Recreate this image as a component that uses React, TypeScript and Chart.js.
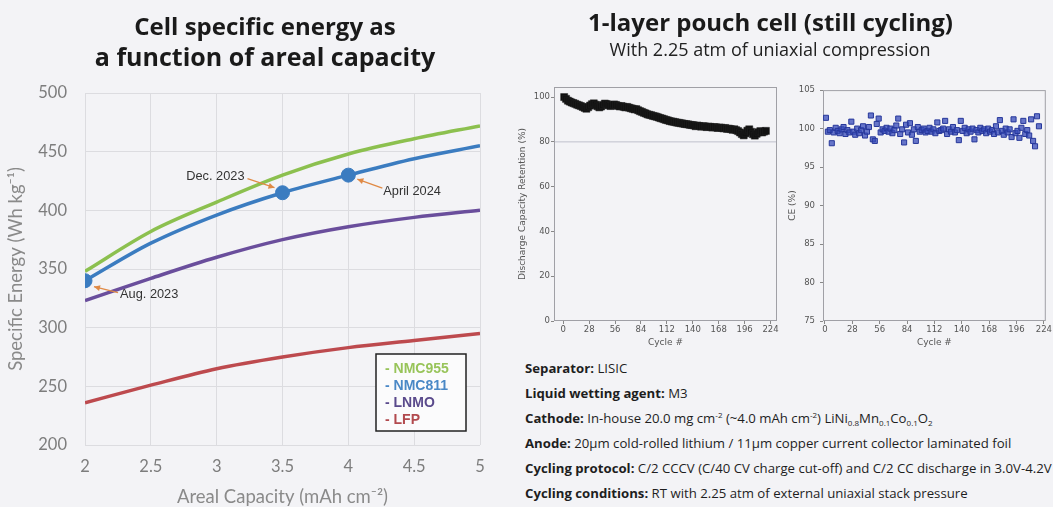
import React, { useEffect, useRef } from "react";
import { Chart, registerables } from "chart.js";
Chart.register(...registerables);

// ---------- Left chart data ----------
const capacity = [2, 2.5, 3, 3.5, 4, 4.5, 5];
const capacityTicks = [2, 2.5, 3, 3.5, 4, 4.5, 5];
const energyTicks = [200, 250, 300, 350, 400, 450, 500];
const nmc955 = [348, 382, 407, 430, 448, 461, 472];
const nmc811 = [340, 372, 396, 415, 430, 444, 455];
const lnmo = [323, 342, 360, 375, 386, 394, 400];
const lfp = [236, 251, 265, 275, 283, 289, 295];
const seriesNames = ["NMC955", "NMC811", "LNMO", "LFP"];
const milestoneX = [2, 3.5, 4];
const milestoneY = [340, 415, 430];
const milestoneLabels = ["Aug. 2023", "Dec. 2023", "April 2024"];

// ---------- Right charts data ----------
const cycleTicks = [0, 28, 56, 84, 112, 140, 168, 196, 224];
const retentionTicks = [0, 20, 40, 60, 80, 100];
const ceTicks = [75, 80, 85, 90, 95, 100, 105];
// cycles 1,3,5,...
const retention = [
  100.0, 99.2, 98.4, 98.0, 97.6, 97.3, 97.0, 96.6, 96.3, 96.0,
  95.6, 95.2, 94.8, 95.5, 96.2, 96.8, 97.2, 96.6, 95.9, 95.4,
  95.8, 96.5, 97.1, 96.9, 96.4, 96.0, 96.3, 96.7, 96.5, 96.1,
  95.8, 96.0, 95.7, 95.4, 95.6, 95.3, 95.0, 94.8, 94.5, 94.6,
  94.1, 93.7, 93.4, 93.0, 92.7, 92.3, 92.1, 91.9, 91.6, 91.4,
  91.2, 90.9, 90.6, 90.4, 90.1, 89.8, 89.6, 89.3, 89.1, 89.0,
  88.8, 88.6, 88.5, 88.3, 88.2, 88.0, 87.9, 87.8, 87.6, 87.5,
  87.4, 87.0, 87.3, 87.1, 86.8, 87.0, 86.9, 86.6, 86.8, 86.7,
  86.4, 86.6, 86.5, 86.2, 86.4, 86.3, 86.0, 86.2, 85.8, 85.9,
  85.7, 85.4, 85.6, 85.2, 84.8, 84.2, 83.5, 82.9, 83.8, 85.0,
  85.6, 84.5, 83.4, 82.8, 83.6, 84.3, 84.8, 84.2, 84.6, 84.9,
];
const coulombicEff = [
  101.4, 99.6, 99.8, 98.1, 99.5, 100.1, 99.7, 99.4, 99.9, 100.2,
  99.3, 99.8, 99.5, 100.9, 99.6, 99.2, 100.0, 99.4, 99.8, 100.3,
  99.1, 99.6, 100.2, 101.7, 98.6, 98.4, 100.6, 101.3, 99.5, 99.9,
  99.7, 100.1, 99.6, 100.0, 99.4, 99.8, 100.4, 101.3, 99.3, 99.9,
  98.2, 100.5, 99.5, 100.7, 99.2, 99.9, 98.4, 100.2, 99.6, 99.8,
  100.0, 99.5, 99.7, 100.1, 99.6, 99.9, 99.4, 100.8, 99.7, 99.8,
  100.0, 101.0, 99.3, 99.9, 99.6, 100.2, 99.5, 99.8, 98.5, 101.0,
  99.7, 100.1, 99.4, 99.9, 99.6, 100.0, 98.6, 99.8, 99.5, 100.1,
  99.7, 99.9, 99.4, 100.0, 99.6, 99.8, 99.3, 100.3, 99.5, 101.1,
  99.7, 99.2, 100.0, 99.5, 99.9, 98.9, 101.2, 99.4, 99.7, 98.8,
  100.1, 101.0, 99.3, 99.8, 99.1, 101.2, 98.4, 97.7, 101.6, 100.3,
];
const cycles = retention.map((_, i) => 1 + 2 * i);

const GREEN = "#8cc04f";
const BLUE = "#3b7cc0";
const PURPLE = "#6a4e9c";
const RED = "#bd4a4e";
const legendColors = ["#98c45a", "#4a88c6", "#5a4a8c", "#b24a4e"];
const BG = "#f3f3f6";

function drawArrow(ctx: CanvasRenderingContext2D, x1: number, y1: number, x2: number, y2: number) {
  ctx.save();
  ctx.strokeStyle = "#e08a45";
  ctx.fillStyle = "#e08a45";
  ctx.lineWidth = 1.3;
  ctx.beginPath();
  ctx.moveTo(x1, y1);
  ctx.lineTo(x2, y2);
  ctx.stroke();
  const a = Math.atan2(y2 - y1, x2 - x1);
  const L = 6, W = 3;
  ctx.beginPath();
  ctx.moveTo(x2, y2);
  ctx.lineTo(x2 - L * Math.cos(a) + W * Math.sin(a), y2 - L * Math.sin(a) - W * Math.cos(a));
  ctx.lineTo(x2 - L * Math.cos(a) - W * Math.sin(a), y2 - L * Math.sin(a) + W * Math.cos(a));
  ctx.closePath();
  ctx.fill();
  ctx.restore();
}

// label style offsets (pixels) relative to each milestone point
const annotStyle = [
  { tx: 35, ty: 14, align: "left", ax1: 33, ay1: 12, ax2: 9, ay2: 6 },
  { tx: -38, ty: -16, align: "right", ax1: -35, ay1: -14, ax2: -8, ay2: -5 },
  { tx: 35, ty: 16, align: "left", ax1: 34, ay1: 13, ax2: 9, ay2: 4 },
];

const leftPlugin = {
  id: "leftAnnot",
  afterDatasetsDraw(chart: any) {
    const ctx = chart.ctx as CanvasRenderingContext2D;
    const xs = chart.scales.x, ys = chart.scales.y;
    milestoneX.forEach((mx, i) => {
      const px = xs.getPixelForValue(mx);
      const py = ys.getPixelForValue(milestoneY[i]);
      const s = annotStyle[i];
      drawArrow(ctx, px + s.ax1, py + s.ay1, px + s.ax2, py + s.ay2);
      ctx.save();
      ctx.font = "12.8px 'Liberation Sans', Arial, sans-serif";
      ctx.fillStyle = "#333";
      ctx.textAlign = s.align as CanvasTextAlign;
      ctx.textBaseline = "middle";
      ctx.fillText(milestoneLabels[i], px + s.tx, py + s.ty);
      ctx.restore();
    });
    // legend box
    const ca = chart.chartArea;
    const bw = 90, bh = 77;
    const bx = ca.right - 14 - bw, by = ca.bottom - 14 - bh;
    ctx.save();
    ctx.fillStyle = "#fbfbfc";
    ctx.fillRect(bx, by, bw, bh);
    ctx.strokeStyle = "#222";
    ctx.lineWidth = 1.5;
    ctx.strokeRect(bx, by, bw, bh);
    ctx.font = "bold 14px 'Liberation Sans', Arial, sans-serif";
    ctx.textBaseline = "middle";
    seriesNames.forEach((n, i) => {
      ctx.fillStyle = legendColors[i];
      ctx.fillText("- " + n, bx + 9, by + 15 + i * 17);
    });
    ctx.restore();
  },
};

const frameAndRefPlugin = (refValue: number | null) => ({
  id: "frameRef",
  beforeDatasetsDraw(chart: any) {
    const ctx = chart.ctx as CanvasRenderingContext2D;
    const ca = chart.chartArea;
    ctx.save();
    if (refValue !== null) {
      const y = chart.scales.y.getPixelForValue(refValue);
      ctx.strokeStyle = "#bfc0cc";
      ctx.lineWidth = 1;
      ctx.beginPath();
      ctx.moveTo(ca.left, y);
      ctx.lineTo(ca.right, y);
      ctx.stroke();
    }
    ctx.strokeStyle = "#a0a0a6";
    ctx.lineWidth = 1;
    ctx.strokeRect(ca.left + 0.5, ca.top + 0.5, ca.right - ca.left - 1, ca.bottom - ca.top - 1);
    ctx.restore();
  },
});

const smallFont = { family: "'DejaVu Sans', sans-serif", size: 8.5 };

function smallScales(yMin: number, yMax: number, yTicks: number[], xMin: number, xMax: number, yTitle: string, yWidth: number, yPad: number) {
  return {
    x: {
      type: "linear",
      min: xMin,
      max: xMax,
      afterBuildTicks: (s: any) => { s.ticks = cycleTicks.map((v) => ({ value: v })); },
      afterFit: (s: any) => { s.height = 31; },
      grid: { display: true, drawOnChartArea: false, drawTicks: true, tickLength: 3, color: "#888" },
      border: { display: false },
      ticks: { padding: 1, color: "#555", font: smallFont, maxRotation: 0, autoSkip: false },
      title: { display: true, text: "Cycle #", color: "#555", font: { family: "'DejaVu Sans', sans-serif", size: 9 }, padding: { top: 0, bottom: 4 } },
    },
    y: {
      min: yMin,
      max: yMax,
      afterBuildTicks: (s: any) => { s.ticks = yTicks.map((v) => ({ value: v })); },
      afterFit: (s: any) => { s.width = yWidth; },
      grid: { display: true, drawOnChartArea: false, drawTicks: true, tickLength: 3, color: "#888" },
      border: { display: false },
      ticks: { padding: yPad, color: "#555", font: smallFont, autoSkip: false },
      title: { display: true, text: yTitle, color: "#555", font: { family: "'DejaVu Sans', sans-serif", size: 9 }, padding: { top: 17, bottom: 0 } },
    },
  };
}

export default function App() {
  const leftRef = useRef<HTMLCanvasElement>(null);
  const midRef = useRef<HTMLCanvasElement>(null);
  const ceRef = useRef<HTMLCanvasElement>(null);

  useEffect(() => {
    document.body.style.margin = "0";
    const toXY = (xs: number[], ys: number[]) => xs.map((x, i) => ({ x, y: ys[i] }));
    const lineDs = (label: string, ys: number[], color: string) => ({
      label,
      data: toXY(capacity, ys),
      borderColor: color,
      backgroundColor: color,
      borderWidth: 3.5,
      pointRadius: 0,
      cubicInterpolationMode: "monotone",
      fill: false,
    });
    const left = new Chart(leftRef.current!, {
      type: "line",
      data: {
        datasets: [
          {
            type: "scatter",
            label: "milestones",
            data: toXY(milestoneX, milestoneY),
            pointRadius: 7,
            backgroundColor: BLUE,
            borderColor: BLUE,
            showLine: false,
          } as any,
          lineDs(seriesNames[0], nmc955, GREEN),
          lineDs(seriesNames[1], nmc811, BLUE),
          lineDs(seriesNames[2], lnmo, PURPLE),
          lineDs(seriesNames[3], lfp, RED),
        ],
      },
      options: {
        animation: false,
        responsive: false,
        layout: { padding: { left: 0, top: 93, right: 20, bottom: 0 } },
        plugins: { legend: { display: false }, tooltip: { enabled: false } },
        scales: {
          x: {
            type: "linear",
            min: 2,
            max: 5,
            afterBuildTicks: (s: any) => { s.ticks = capacityTicks.map((v) => ({ value: v })); },
            afterFit: (s: any) => { s.height = 62; },
            grid: { color: "#dcdce0", drawTicks: false },
            border: { display: false },
            ticks: { padding: 12, color: "#7d7d7d", font: { family: "Lato", size: 16.5 }, autoSkip: false, maxRotation: 0, callback: (v: number) => String(v) },
            title: { display: true, text: "Areal Capacity (mAh cm⁻²)", color: "#8a8a8a", font: { family: "Lato", size: 18.5 }, padding: { top: 0, bottom: -1 } },
          },
          y: {
            min: 200,
            max: 500,
            afterBuildTicks: (s: any) => { s.ticks = energyTicks.map((v) => ({ value: v })); },
            afterFit: (s: any) => { s.width = 85; },
            grid: { color: "#dcdce0", drawTicks: false },
            border: { display: false },
            ticks: { padding: 18, color: "#7d7d7d", font: { family: "Lato", size: 16.5 }, autoSkip: false, callback: (v: number) => String(v) },
            title: { display: true, text: "Specific Energy (Wh kg⁻¹)", color: "#8a8a8a", font: { family: "Lato", size: 18.5 }, padding: { top: 5, bottom: 0 } },
          },
        },
      } as any,
      plugins: [leftPlugin],
    });

    const mid = new Chart(midRef.current!, {
      type: "scatter",
      data: {
        datasets: [
          {
            label: "Retention",
            data: toXY(cycles, retention),
            pointStyle: "rect",
            pointRadius: 5,
            backgroundColor: "#111",
            borderColor: "#222",
            borderWidth: 0.5,
          },
        ],
      },
      options: {
        animation: false,
        responsive: false,
        layout: { padding: { left: 0, top: 7, right: 8, bottom: 0 } },
        plugins: { legend: { display: false }, tooltip: { enabled: false } },
        scales: smallScales(0, 104.5, retentionTicks, -10, 231, "Discharge Capacity Retention (%)", 54, 1),
      } as any,
      plugins: [frameAndRefPlugin(80)],
    });

    const ce = new Chart(ceRef.current!, {
      type: "scatter",
      data: {
        datasets: [
          {
            label: "CE",
            data: toXY(cycles, coulombicEff),
            pointStyle: "rect",
            pointRadius: 3.6,
            backgroundColor: "rgba(55,75,185,0.75)",
            borderColor: "#26379a",
            borderWidth: 1,
          },
        ],
      },
      options: {
        animation: false,
        responsive: false,
        layout: { padding: { left: 0, top: 7, right: 6, bottom: 0 } },
        plugins: { legend: { display: false }, tooltip: { enabled: false } },
        scales: smallScales(75, 105, ceTicks, -2, 226, "CE (%)", 53, 5),
      } as any,
      plugins: [frameAndRefPlugin(null)],
    });

    return () => {
      left.destroy();
      mid.destroy();
      ce.destroy();
    };
  }, []);

  const bold: React.CSSProperties = { fontWeight: 700 };
  const sub: React.CSSProperties = { fontSize: 8, lineHeight: 0, verticalAlign: "-3px" };
  const sup: React.CSSProperties = { fontSize: 8, lineHeight: 0, verticalAlign: "5px" };

  return (
    <div style={{ position: "absolute", left: 0, top: 0, width: 1053, height: 507, background: BG, overflow: "hidden", fontFamily: "'Open Sans', sans-serif" }}>
      <canvas ref={leftRef} width={500} height={507} style={{ position: "absolute", left: 0, top: 0, width: 500, height: 507 }} />
      <div style={{ position: "absolute", left: 0, width: 530, top: 10, textAlign: "center", fontWeight: 700, fontSize: 24, lineHeight: "31px", color: "#1a1a1a" }}>
        Cell specific energy as<br /><span style={{ fontSize: 25 }}>a function of areal capacity</span>
      </div>
      <div style={{ position: "absolute", left: 500, width: 541, top: 6, textAlign: "center", fontWeight: 700, fontSize: 24, lineHeight: "32px", color: "#1a1a1a" }}>
        1-layer pouch cell (still cycling)
      </div>
      <div style={{ position: "absolute", left: 500, width: 540, top: 37, textAlign: "center", fontSize: 18, lineHeight: "24px", color: "#222" }}>
        With 2.25 atm of uniaxial compression
      </div>
      <canvas ref={midRef} width={285} height={272} style={{ position: "absolute", left: 500, top: 80, width: 285, height: 272 }} />
      <canvas ref={ceRef} width={283} height={272} style={{ position: "absolute", left: 770, top: 80, width: 283, height: 272 }} />
      <div style={{ position: "absolute", left: 525, top: 356, fontSize: 13.2, lineHeight: "25px", color: "#1e1e1e", whiteSpace: "nowrap" }}>
        <div><span style={bold}>Separator:</span> LISIC</div>
        <div><span style={bold}>Liquid wetting agent:</span> M3</div>
        <div>
          <span style={bold}>Cathode:</span> In-house 20.0 mg cm<span style={sup}>-2</span> (~4.0 mAh cm<span style={sup}>-2</span>) LiNi<span style={sub}>0.8</span>Mn<span style={sub}>0.1</span>Co<span style={sub}>0.1</span>O<span style={sub}>2</span>
        </div>
        <div><span style={bold}>Anode:</span> 20µm cold-rolled lithium / 11µm copper current collector laminated foil</div>
        <div><span style={bold}>Cycling protocol:</span> C/2 CCCV (C/40 CV charge cut-off) and C/2 CC discharge in 3.0V-4.2V</div>
        <div><span style={bold}>Cycling conditions:</span> RT with 2.25 atm of external uniaxial stack pressure</div>
      </div>
    </div>
  );
}
